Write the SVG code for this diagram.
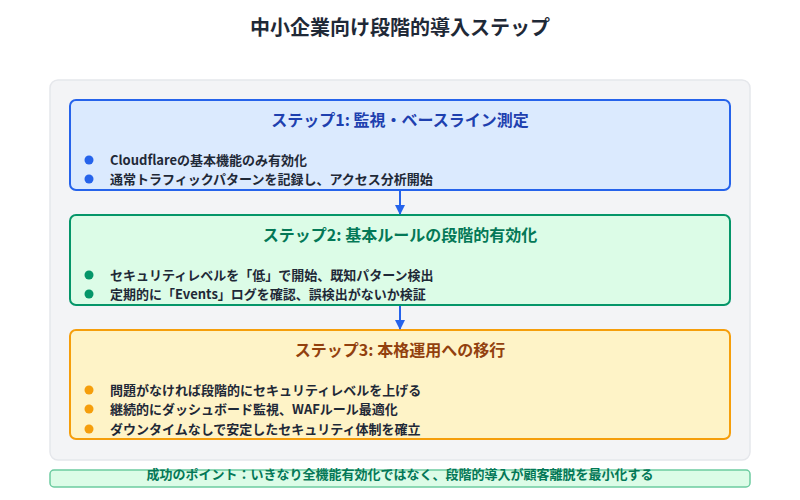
<svg xmlns="http://www.w3.org/2000/svg" width="800" height="500" viewBox="0 0 800 500">
<style>
text{font-family:"Noto Sans CJK JP","Noto Sans",sans-serif;font-weight:bold}
.title{font-size:20px;fill:#1f2937}
.h{font-size:16px;text-anchor:middle}
.b{font-size:13px;fill:#1f2937}
.conn{stroke:#2563eb;stroke-width:2;fill:none}
</style>
<defs>
<marker id="ah" markerWidth="10" markerHeight="12" refX="9" refY="6" orient="auto" markerUnits="userSpaceOnUse">
<path d="M0,1 L10,6 L0,11 Z" fill="#2563eb"/>
</marker>
</defs>
<rect width="800" height="500" fill="#ffffff"/>
<text class="title" x="400" y="35" text-anchor="middle">中小企業向け段階的導入ステップ</text>
<g id="panel">
<rect x="50" y="80" width="700" height="380" rx="8" fill="#f3f4f6" stroke="#e5e7eb" stroke-width="1.5"/>
</g>
<g id="step1">
<rect x="70" y="100" width="660" height="90" rx="6" fill="#dbeafe" stroke="#2563eb" stroke-width="2"/>
<text class="h" x="400" y="125.5" fill="#1e40af">ステップ1: 監視・ベースライン測定</text>
<circle cx="89" cy="160" r="4.5" fill="#2563eb"/>
<circle cx="89" cy="179" r="4.5" fill="#2563eb"/>
<text class="b" x="110" y="164.5">Cloudflareの基本機能のみ有効化</text>
<text class="b" x="110" y="183.5">通常トラフィックパターンを記録し、アクセス分析開始</text>
</g>
<g id="step2">
<rect x="70" y="215" width="660" height="90" rx="6" fill="#dcfce7" stroke="#059669" stroke-width="2"/>
<text class="h" x="400" y="240.5" fill="#047857">ステップ2: 基本ルールの段階的有効化</text>
<circle cx="89" cy="275" r="4.5" fill="#059669"/>
<circle cx="89" cy="294" r="4.5" fill="#059669"/>
<text class="b" x="110" y="279.5">セキュリティレベルを「低」で開始、既知パターン検出</text>
<text class="b" x="110" y="298.5">定期的に「Events」ログを確認、誤検出がないか検証</text>
</g>
<g id="step3">
<rect x="70" y="330" width="660" height="109" rx="6" fill="#fef3c7" stroke="#f59e0b" stroke-width="2"/>
<text class="h" x="400" y="355.5" fill="#92400e">ステップ3: 本格運用への移行</text>
<circle cx="89" cy="390" r="4.5" fill="#f59e0b"/>
<circle cx="89" cy="409" r="4.5" fill="#f59e0b"/>
<circle cx="89" cy="429" r="4.5" fill="#f59e0b"/>
<text class="b" x="110" y="394.5">問題がなければ段階的にセキュリティレベルを上げる</text>
<text class="b" x="110" y="413.5">継続的にダッシュボード監視、WAFルール最適化</text>
<text class="b" x="110" y="433.5">ダウンタイムなしで安定したセキュリティ体制を確立</text>
</g>
<g id="connectors">
<line class="conn" x1="400" y1="191" x2="400" y2="214" marker-end="url(#ah)"/>
<line class="conn" x1="400" y1="306" x2="400" y2="329" marker-end="url(#ah)"/>
</g>
<g id="note">
<rect x="50" y="470" width="700" height="17" rx="4" fill="#dcfce7" stroke="#6ccba0" stroke-width="1.5"/>
<text x="400" y="479" text-anchor="middle" font-size="13" fill="#047857">成功のポイント：いきなり全機能有効化ではなく、段階的導入が顧客離脱を最小化する</text>
</g>
</svg>
